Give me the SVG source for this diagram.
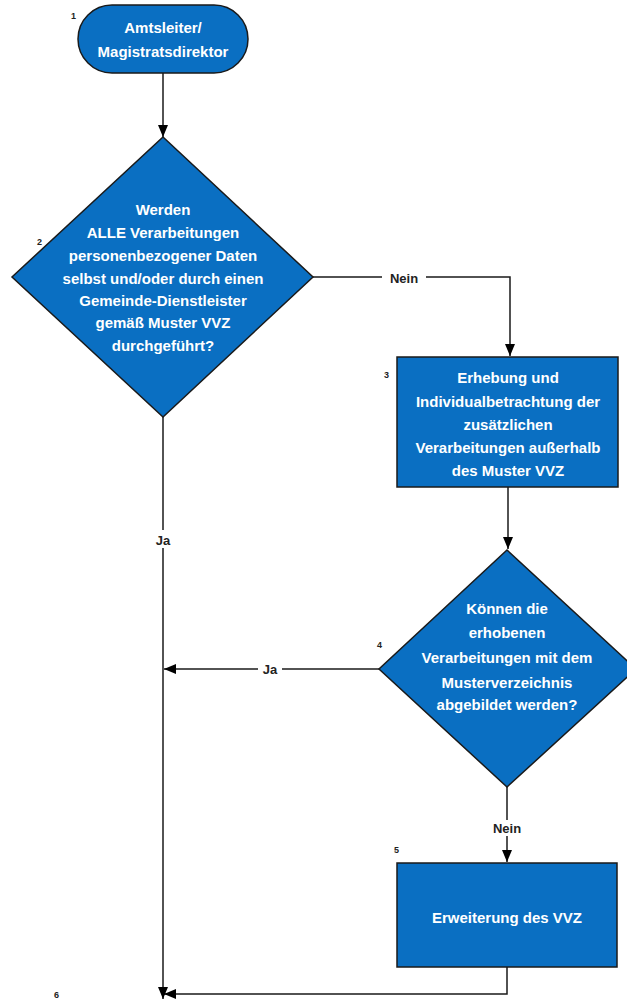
<svg xmlns="http://www.w3.org/2000/svg" width="627" height="1000" viewBox="0 0 627 1000">
<style>
.shape{fill:#0A6FC2;stroke:#1a1a1a;stroke-width:1.5}
.t{font-family:"Liberation Sans",Arial,sans-serif;font-weight:bold;font-size:15px;fill:#ffffff;text-anchor:middle}
.n{font-family:"Liberation Sans",Arial,sans-serif;font-weight:bold;font-size:9px;fill:#222222}
.c{fill:none;stroke:#1a1a1a;stroke-width:1.5}
.lbl{font-family:"Liberation Sans",Arial,sans-serif;font-weight:bold;font-size:13px;fill:#222222;text-anchor:middle}
.bg{fill:#ffffff}
</style>
<defs>
<marker id="arr" markerWidth="12" markerHeight="10" refX="12" refY="5" orient="auto" markerUnits="userSpaceOnUse">
<path d="M0,0 L12,5 L0,10 Z" fill="#000"/>
</marker>
</defs>
<rect width="627" height="1000" fill="#ffffff"/>
<g id="connectors">
<path class="c" d="M163,73 L163,137" marker-end="url(#arr)"/>
<path class="c" d="M313,277 L510,277 L510,356" marker-end="url(#arr)"/>
<path class="c" d="M508,487 L508,549" marker-end="url(#arr)"/>
<path class="c" d="M379,669 L164,669" marker-end="url(#arr)"/>
<path class="c" d="M507,787 L507,862" marker-end="url(#arr)"/>
<path class="c" d="M507,967 L507,994 L164,994" marker-end="url(#arr)"/>
<path class="c" d="M163,417 L163,999" marker-end="url(#arr)"/>
<rect class="bg" x="150" y="530" width="26" height="18"/>
<text class="lbl" x="163" y="545">Ja</text>
<rect class="bg" x="382" y="270" width="44" height="16"/>
<text class="lbl" x="404" y="283">Nein</text>
<rect class="bg" x="258" y="662" width="24" height="16"/>
<text class="lbl" x="270" y="674">Ja</text>
<rect class="bg" x="487" y="820" width="40" height="16"/>
<text class="lbl" x="507" y="833">Nein</text>
</g>
<g id="node1">
<rect class="shape" x="78" y="5" width="170" height="68" rx="34" ry="34"/>
<text class="t" x="163" y="33">Amtsleiter/</text>
<text class="t" x="163" y="57">Magistratsdirektor</text>
<text class="n" x="71" y="19">1</text>
</g>
<g id="node2">
<path class="shape" d="M163,137 L313,277 L163,417 L12,277 Z"/>
<text class="t" x="163" y="215">Werden</text>
<text class="t" x="163" y="238">ALLE Verarbeitungen</text>
<text class="t" x="163" y="261">personenbezogener Daten</text>
<text class="t" x="163" y="284">selbst und/oder durch einen</text>
<text class="t" x="163" y="306">Gemeinde-Dienstleister</text>
<text class="t" x="163" y="328">gemäß Muster VVZ</text>
<text class="t" x="163" y="351">durchgeführt?</text>
<text class="n" x="37" y="245">2</text>
</g>
<g id="node3">
<rect class="shape" x="397" y="357" width="221" height="130"/>
<text class="t" x="508" y="383">Erhebung und</text>
<text class="t" x="508" y="407">Individualbetrachtung der</text>
<text class="t" x="508" y="430">zusätzlichen</text>
<text class="t" x="508" y="453">Verarbeitungen außerhalb</text>
<text class="t" x="508" y="476">des Muster VVZ</text>
<text class="n" x="384" y="378">3</text>
</g>
<g id="node4">
<path class="shape" d="M507,550 L636,669 L507,787 L379,669 Z"/>
<text class="t" x="507" y="614">Können die</text>
<text class="t" x="507" y="638">erhobenen</text>
<text class="t" x="507" y="663">Verarbeitungen mit dem</text>
<text class="t" x="507" y="688">Musterverzeichnis</text>
<text class="t" x="507" y="710">abgebildet werden?</text>
<text class="n" x="377" y="648">4</text>
</g>
<g id="node5">
<rect class="shape" x="397" y="863" width="220" height="104"/>
<text class="t" x="507" y="923">Erweiterung des VVZ</text>
<text class="n" x="394" y="853">5</text>
</g>
<g id="node6">
<text class="n" x="54" y="998">6</text>
</g>
</svg>
